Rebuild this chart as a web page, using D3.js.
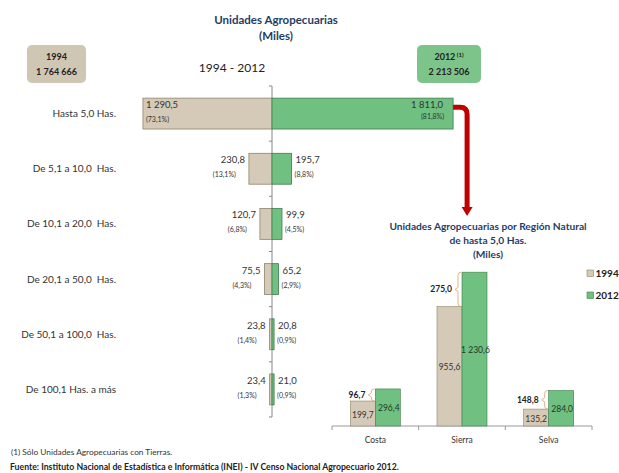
<!DOCTYPE html>
<html>
<head>
<meta charset="utf-8">
<script src="https://cdn.jsdelivr.net/npm/d3@7"></script>
<style>
  body { margin: 0; background: #fff; }
  svg { font-family: Lato, "Open Sans", sans-serif; }
</style>
</head>
<body>
<script>
// GLOBAL VARIABLES
const WIDTH = 619;
const HEIGHT = 473;

// DATA
const sizeCategories = ["Hasta 5,0 Has.", "De 5,1 a 10,0  Has.", "De 10,1 a 20,0  Has.", "De 20,1 a 50,0  Has.", "De 50,1 a 100,0  Has.", "De 100,1 Has. a más"];
const units1994 = [1290.5, 230.8, 120.7, 75.5, 23.8, 23.4];
const units2012 = [1811.0, 195.7, 99.9, 65.2, 20.8, 21.0];
const pct1994 = [73.1, 13.1, 6.8, 4.3, 1.4, 1.3];
const pct2012 = [81.8, 8.8, 4.5, 2.9, 0.9, 0.9];
const total1994 = "1 764 666";
const total2012 = "2 213 506";

const regions = ["Costa", "Sierra", "Selva"];
const region1994 = [199.7, 955.6, 135.2];
const region2012 = [296.4, 1230.6, 284.0];
const regionDiff = [96.7, 275.0, 148.8];
const years = ["1994", "2012"];

// STYLES
const TAN = "#d4cab7", TAN_STROKE = "#8f836b";
const GREEN = "#70c081", GREEN_STROKE = "#3f7d4c";
const NAVY = "#1f3d66";
const TEXT = "#333";

const locale = d3.formatLocale({ decimal: ",", thousands: " ", grouping: [3], currency: ["", ""] });
const fmt = locale.format(",.1f");
const pctFmt = v => "(" + locale.format(".1f")(v) + "%)";

const svg = d3.select("body").append("svg").attr("width", WIDTH).attr("height", HEIGHT);

// TITLES
const titleG = svg.append("g").attr("fill", NAVY).attr("font-weight", "bold").attr("text-anchor", "middle");
titleG.append("text").attr("x", 276).attr("y", 24).attr("font-size", 11.5).text("Unidades Agropecuarias");
titleG.append("text").attr("x", 276).attr("y", 40).attr("font-size", 11.5).text("(Miles)");

svg.append("text").attr("x", 232).attr("y", 72).attr("text-anchor", "middle")
  .attr("font-size", 12).attr("fill", "#222").text("1994 - 2012");

// TOTAL BOXES
const boxDrawer = (x, w, fill, line1, sup, line2) => {
  const g = svg.append("g");
  g.append("rect").attr("x", x).attr("y", 45).attr("width", w).attr("height", 38)
    .attr("rx", 5).attr("fill", fill);
  const t = g.append("text").attr("x", x + w / 2).attr("y", 60).attr("text-anchor", "middle")
    .attr("font-size", 9).attr("font-weight", "bold").attr("fill", "#222");
  t.append("tspan").text(line1);
  if (sup) t.append("tspan").attr("dy", -3).attr("font-size", 6).text(" " + sup);
  g.append("text").attr("x", x + w / 2).attr("y", 75).attr("text-anchor", "middle")
    .attr("font-size", 9).attr("font-weight", "bold").attr("fill", "#222").text(line2);
};
boxDrawer(27, 59, "#cfc6b3", "1994", null, total1994);
boxDrawer(417, 64, "#7dc48a", "2012", "(1)", total2012);

// MAIN CHART (butterfly)
const CX = 272;
const xLeft = d3.scaleLinear().domain([0, 2000]).range([CX, CX - 200]);
const xRight = d3.scaleLinear().domain([0, 2000]).range([CX, CX + 200]);
const yBand = d3.scaleBand().domain(sizeCategories).range([86, 417]).padding(0);
const BAR_H = yBand.bandwidth() * 0.56;
const barY = c => yBand(c) + (yBand.bandwidth() - BAR_H) / 2;

const mainG = svg.append("g");

// axis with ticks at band boundaries
mainG.append("line").attr("x1", CX).attr("x2", CX).attr("y1", yBand.range()[0]).attr("y2", yBand.range()[1])
  .attr("stroke", "#888").attr("stroke-width", 1);
const boundaries = sizeCategories.map(c => yBand(c)).concat([yBand.range()[1]]);
mainG.selectAll(".tick").data(boundaries).enter().append("line")
  .attr("x1", CX - 3).attr("x2", CX).attr("y1", d => d).attr("y2", d => d)
  .attr("stroke", "#888");

const rows = sizeCategories.map((c, i) => ({ c, i, a: units1994[i], b: units2012[i], pa: pct1994[i], pb: pct2012[i] }));

mainG.selectAll(".bar94").data(rows).enter().append("rect")
  .attr("x", d => xLeft(d.a)).attr("y", d => barY(d.c))
  .attr("width", d => CX - xLeft(d.a)).attr("height", BAR_H)
  .attr("fill", TAN).attr("stroke", TAN_STROKE).attr("stroke-width", 0.8);

mainG.selectAll(".bar12").data(rows).enter().append("rect")
  .attr("x", CX).attr("y", d => barY(d.c))
  .attr("width", d => xRight(d.b) - CX).attr("height", BAR_H)
  .attr("fill", GREEN).attr("stroke", GREEN_STROKE).attr("stroke-width", 0.8);

// row labels
mainG.selectAll(".rowLabel").data(rows).enter().append("text")
  .attr("x", 116).attr("y", d => yBand(d.c) + yBand.bandwidth() / 2 + 3.5)
  .attr("text-anchor", "end").attr("font-size", 10).attr("fill", TEXT)
  .attr("xml:space", "preserve").text(d => d.c);

// value labels
rows.forEach(d => {
  const top = barY(d.c);
  const inside = d.i === 0;
  const lx = inside ? xLeft(d.a) + 3 : xLeft(d.a) - 4;
  const rx = inside ? xRight(d.b) - 10 : xRight(d.b) + 4;
  mainG.append("text").attr("x", lx).attr("y", top + 10)
    .attr("text-anchor", inside ? "start" : "end").attr("font-size", 9.5).attr("fill", TEXT).text(fmt(d.a));
  mainG.append("text").attr("x", inside ? lx : lx - 9).attr("y", top + 24)
    .attr("text-anchor", inside ? "start" : "end").attr("font-size", 7).attr("fill", TEXT).text(pctFmt(d.pa));
  mainG.append("text").attr("x", rx).attr("y", top + 10)
    .attr("text-anchor", inside ? "end" : "start").attr("font-size", 9.5).attr("fill", TEXT).text(fmt(d.b));
  mainG.append("text").attr("x", inside ? rx + 1 : rx - 1).attr("y", top + (inside ? 21 : 24))
    .attr("text-anchor", inside ? "end" : "start").attr("font-size", 7).attr("fill", TEXT).text(pctFmt(d.pb));
});

// SUB CHART (regions)
const xReg = d3.scaleBand().domain(regions).range([332, 592]).padding(0);
const PAIR_W = 50;
const xYear = d3.scaleBand().domain(years).range([0, PAIR_W]);
const yReg = d3.scaleLinear().domain([0, 1400]).range([426, 251]);
const pairX = r => xReg(r) + (xReg.bandwidth() - PAIR_W) / 2;

const subG = svg.append("g");

// arrow from the first main bar to the sub chart
const arrowX0 = xRight(units2012[0]);
const arrowY0 = barY(sizeCategories[0]) + 9;
const arrowX = arrowX0 + 14;
const arrowY1 = 208;
subG.append("path")
  .attr("d", `M${arrowX0},${arrowY0} H${arrowX - 7} Q${arrowX},${arrowY0} ${arrowX},${arrowY0 + 7} V${arrowY1}`)
  .attr("fill", "none").attr("stroke", "#c00000").attr("stroke-width", 5);
subG.append("path")
  .attr("d", `M${arrowX - 5.5},${arrowY1 - 1} L${arrowX + 5.5},${arrowY1 - 1} L${arrowX},${arrowY1 + 8} Z`)
  .attr("fill", "#c00000");

const subTitle = subG.append("g").attr("fill", NAVY).attr("font-weight", "bold")
  .attr("text-anchor", "middle").attr("font-size", 10.2);
subTitle.append("text").attr("x", 488).attr("y", 230).text("Unidades Agropecuarias por Región Natural");
subTitle.append("text").attr("x", 488).attr("y", 244).text("de hasta 5,0 Has.");
subTitle.append("text").attr("x", 488).attr("y", 258).text("(Miles)");

const regRows = regions.map((r, i) => ({ r, i, a: region1994[i], b: region2012[i], diff: regionDiff[i] }));

// axis
subG.append("line").attr("x1", xReg.range()[0]).attr("x2", xReg.range()[1])
  .attr("y1", yReg(0)).attr("y2", yReg(0)).attr("stroke", "#999");
const regBounds = regions.map(r => xReg(r)).concat([xReg.range()[1]]);
subG.selectAll(".rtick").data(regBounds).enter().append("line")
  .attr("x1", d => d).attr("x2", d => d).attr("y1", yReg(0)).attr("y2", yReg(0) + 4).attr("stroke", "#999");
subG.selectAll(".rlabel").data(regions).enter().append("text")
  .attr("x", r => xReg(r) + xReg.bandwidth() / 2).attr("y", yReg(0) + 17)
  .attr("text-anchor", "middle").attr("font-size", 8.5).attr("fill", TEXT).text(r => r);

// bars
subG.selectAll(".rb94").data(regRows).enter().append("rect")
  .attr("x", d => pairX(d.r) + xYear("1994")).attr("y", d => yReg(d.a))
  .attr("width", xYear.bandwidth()).attr("height", d => yReg(0) - yReg(d.a))
  .attr("fill", TAN).attr("stroke", TAN_STROKE).attr("stroke-width", 0.6);
subG.selectAll(".rb12").data(regRows).enter().append("rect")
  .attr("x", d => pairX(d.r) + xYear("2012")).attr("y", d => yReg(d.b))
  .attr("width", xYear.bandwidth()).attr("height", d => yReg(0) - yReg(d.b))
  .attr("fill", GREEN).attr("stroke", GREEN_STROKE).attr("stroke-width", 0.6);

// bar values
subG.selectAll(".rv94").data(regRows).enter().append("text")
  .attr("x", d => pairX(d.r) + xYear("1994") + xYear.bandwidth() / 2)
  .attr("y", d => (yReg(d.a) + yReg(0)) / 2 + 4)
  .attr("text-anchor", "middle").attr("font-size", 8.5).attr("fill", TEXT).text(d => fmt(d.a));
subG.selectAll(".rv12").data(regRows).enter().append("text")
  .attr("x", d => pairX(d.r) + xYear("2012") + xYear.bandwidth() / 2 + 1)
  .attr("y", d => (yReg(d.b) + yReg(0)) / 2 + 4)
  .attr("text-anchor", "middle").attr("font-size", 8.5).attr("fill", "#1d3a22").text(d => fmt(d.b));

// difference brackets
regRows.forEach(d => {
  const bx = pairX(d.r) + xYear("2012") - 4;
  const y1 = yReg(d.b), y2 = yReg(d.a);
  const mid = (y1 + y2) / 2;
  subG.append("path")
    .attr("d", `M${bx + 3},${y1} Q${bx},${y1} ${bx},${y1 + 3} V${mid - 2} L${bx - 3},${mid} L${bx},${mid + 2} V${y2 - 3} Q${bx},${y2} ${bx + 3},${y2}`)
    .attr("fill", "none").attr("stroke", "#d8ad7e").attr("stroke-width", 0.9);
  subG.append("text").attr("x", bx - 6).attr("y", mid + 3)
    .attr("text-anchor", "end").attr("font-size", 8.5).attr("font-weight", "bold").attr("fill", "#222")
    .text(fmt(d.diff));
});

// legend
const legend = subG.selectAll(".leg").data(years).enter().append("g")
  .attr("transform", (d, i) => `translate(587,${270 + i * 22})`);
legend.append("rect").attr("width", 6.5).attr("height", 6.5)
  .attr("fill", (d, i) => i ? GREEN : TAN).attr("stroke", (d, i) => i ? GREEN_STROKE : TAN_STROKE).attr("stroke-width", 0.6);
legend.append("text").attr("x", 8.5).attr("y", 7).attr("font-size", 10).attr("font-weight", "bold")
  .attr("fill", "#222").text(d => d);

// FOOTER
svg.append("text").attr("x", 11).attr("y", 455).attr("font-size", 8.3).attr("fill", TEXT)
  .text("(1) Sólo Unidades Agropecuarias con Tierras.");
svg.append("text").attr("x", 10).attr("y", 470).attr("font-size", 8.7).attr("font-weight", "bold").attr("fill", "#222")
  .text("Fuente: Instituto Nacional de Estadística  e Informática (INEI) - IV Censo Nacional Agropecuario 2012.");
</script>
</body>
</html>
